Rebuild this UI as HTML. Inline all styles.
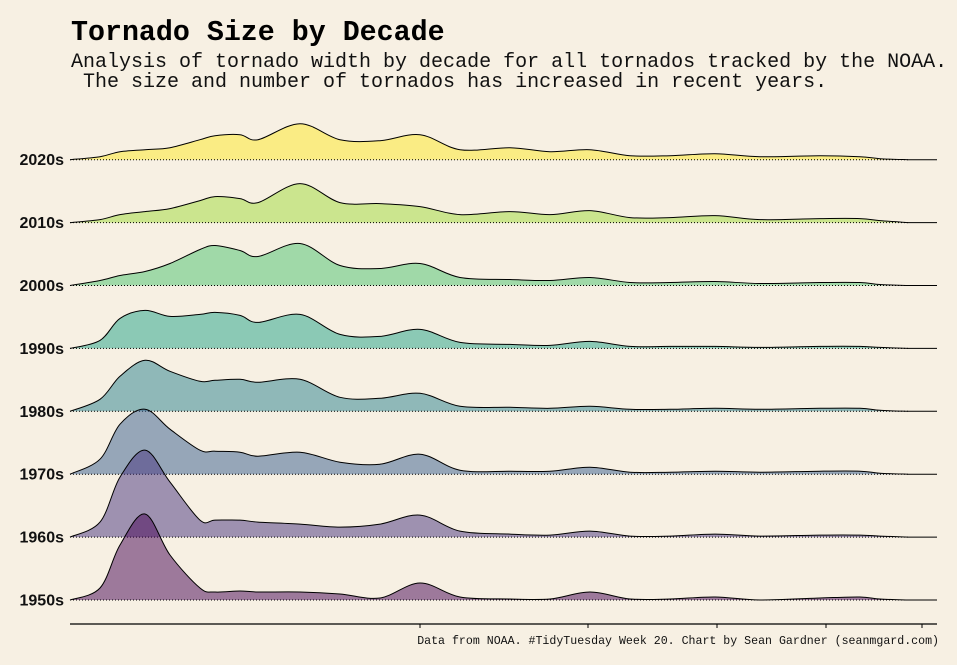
<!DOCTYPE html>
<html><head><meta charset="utf-8">
<style>
html,body{margin:0;padding:0;background:#f7f0e3;}
svg{display:block;}
.mono{font-family:"Liberation Mono",monospace;}
.lab{font-family:"Liberation Sans",sans-serif;font-weight:bold;font-size:16px;fill:#111;}
</style></head>
<body>
<svg id="chart" width="957" height="665" viewBox="0 0 957 665" xmlns="http://www.w3.org/2000/svg">
<rect x="0" y="0" width="957" height="665" fill="#f7f0e3"/>
<text class="mono" x="71" y="40" font-size="28.3" font-weight="bold" fill="#000">Tornado Size by Decade</text>
<text class="mono" x="71" y="67" font-size="20" fill="#111">Analysis of tornado width by decade for all tornados tracked by the NOAA.</text>
<text class="mono" x="71" y="87" font-size="20" fill="#111" xml:space="preserve"> The size and number of tornados has increased in recent years.</text>
<g id="ridges"></g>
<line x1="70" y1="624" x2="937" y2="624" stroke="#000" stroke-width="1.3"/>
<g id="ticks"></g>
<text class="mono" x="939" y="644" font-size="11.6" text-anchor="end" fill="#111">Data from NOAA. #TidyTuesday Week 20. Chart by Sean Gardner (seanmgard.com)</text>
</svg>
<script>
const decades = ["1950s","1960s","1970s","1980s","1990s","2000s","2010s","2020s"];
const widthGrid = [0,30,50,75,100,130,145,170,188,230,270,310,350,390,440,480,520,560,600,645,690,750,790,810,838];
const d1950 = [0,12,55,86,45,12,8,9,8,8,6,2,17,3,1,1,8,1,1,3,0,2,3,1,0];
const d1960 = [0,15,60,87,55,17,17,17,15,13,10,13,22,6,3,2,6,1,1,3,1,2,2,1,0];
const d1970 = [0,15,50,65,45,24,23,22,18,22,12,10,20,4,3,3,7,2,2,3,2,3,3,1,0];
const d1980 = [0,12,35,51,40,30,31,32,29,32,14,13,18,5,4,3,5,2,2,3,2,3,3,1,0];
const d1990 = [0,8,30,38,32,34,36,33,26,34,14,12,19,6,4,3,7,2,2,2,1,2,2,1,0];
const d2000 = [0,5,10,14,22,36,40,35,29,42,20,17,22,8,6,5,8,3,3,4,2,3,3,1,0];
const d2010 = [0,3,8,11,14,22,26,24,20,39,20,19,16,8,11,8,12,5,5,7,3,4,4,2,0];
const d2020 = [0,3,8,10,12,20,24,25,20,36,20,19,25,10,12,8,10,4,4,6,3,4,3,1,0];
const densities = [d1950,d1960,d1970,d1980,d1990,d2000,d2010,d2020];
const colors = ["#440154","#46327e","#365c8d","#277f8e","#1fa187","#4ac16d","#a0da39","#fde725"];
const tickVals = [350,518,647,756,852];

const X0=70, X1=937, base0=600, step=62.9;
const xScale = v => X0 + v;
const baseY = i => base0 - i*step;
const ns="http://www.w3.org/2000/svg";
const ridges=document.getElementById('ridges');

function spline(pts){
  let d=`M${pts[0][0]},${pts[0][1]}`;
  const bb=pts[0][1];
  for(let i=0;i<pts.length-1;i++){
    const p0=pts[Math.max(0,i-1)],p1=pts[i],p2=pts[i+1],p3=pts[Math.min(pts.length-1,i+2)];
    const t=0.5/3;
    let c1y=p1[1]+(p2[1]-p0[1])*t, c2y=p2[1]-(p3[1]-p1[1])*t;
    c1y=Math.min(c1y,bb); c2y=Math.min(c2y,bb);
    d+=` C${p1[0]+(p2[0]-p0[0])*t},${c1y} ${p2[0]-(p3[0]-p1[0])*t},${c2y} ${p2[0]},${p2[1]}`;
  }
  return d;
}

for(let i=decades.length-1;i>=0;i--){
  const by=baseY(i);
  const pts=widthGrid.map((w,k)=>[xScale(w),by-densities[i][k]]);
  const g=document.createElementNS(ns,'g');
  
  
  const top=spline(pts);
  const last=pts[pts.length-1][0];
  const area=document.createElementNS(ns,'path');
  
  
  area.setAttribute('d',top+` L${last},${by} L${X0},${by} Z`);
  area.setAttribute('fill',colors[i]);
  area.setAttribute('fill-opacity','0.5');
  g.appendChild(area);
  const bl=document.createElementNS(ns,'line');
  
  
  bl.setAttribute('x1',X0);bl.setAttribute('x2',last);bl.setAttribute('y1',by);bl.setAttribute('y2',by);
  bl.setAttribute('stroke','#000');bl.setAttribute('stroke-width','1');bl.setAttribute('stroke-dasharray','1 2');
  g.appendChild(bl);
  const ln=document.createElementNS(ns,'path');
  
  
  ln.setAttribute('d',top+` L${X1},${by}`);
  ln.setAttribute('fill','none');ln.setAttribute('stroke','#000');ln.setAttribute('stroke-width','1');
  g.appendChild(ln);
  const t=document.createElementNS(ns,'text');
  
  
  t.setAttribute('class','lab');t.setAttribute('x',64);t.setAttribute('y',by+5.5);t.setAttribute('text-anchor','end');
  t.textContent=decades[i];
  g.appendChild(t);
  ridges.appendChild(g);
}
const ticks=document.getElementById('ticks');
tickVals.forEach(v=>{
  const l=document.createElementNS(ns,'line');
  
  
  l.setAttribute('x1',xScale(v));l.setAttribute('x2',xScale(v));l.setAttribute('y1',624);l.setAttribute('y2',628);
  l.setAttribute('stroke','#000');
  ticks.appendChild(l);
});
</script>
</body></html>
